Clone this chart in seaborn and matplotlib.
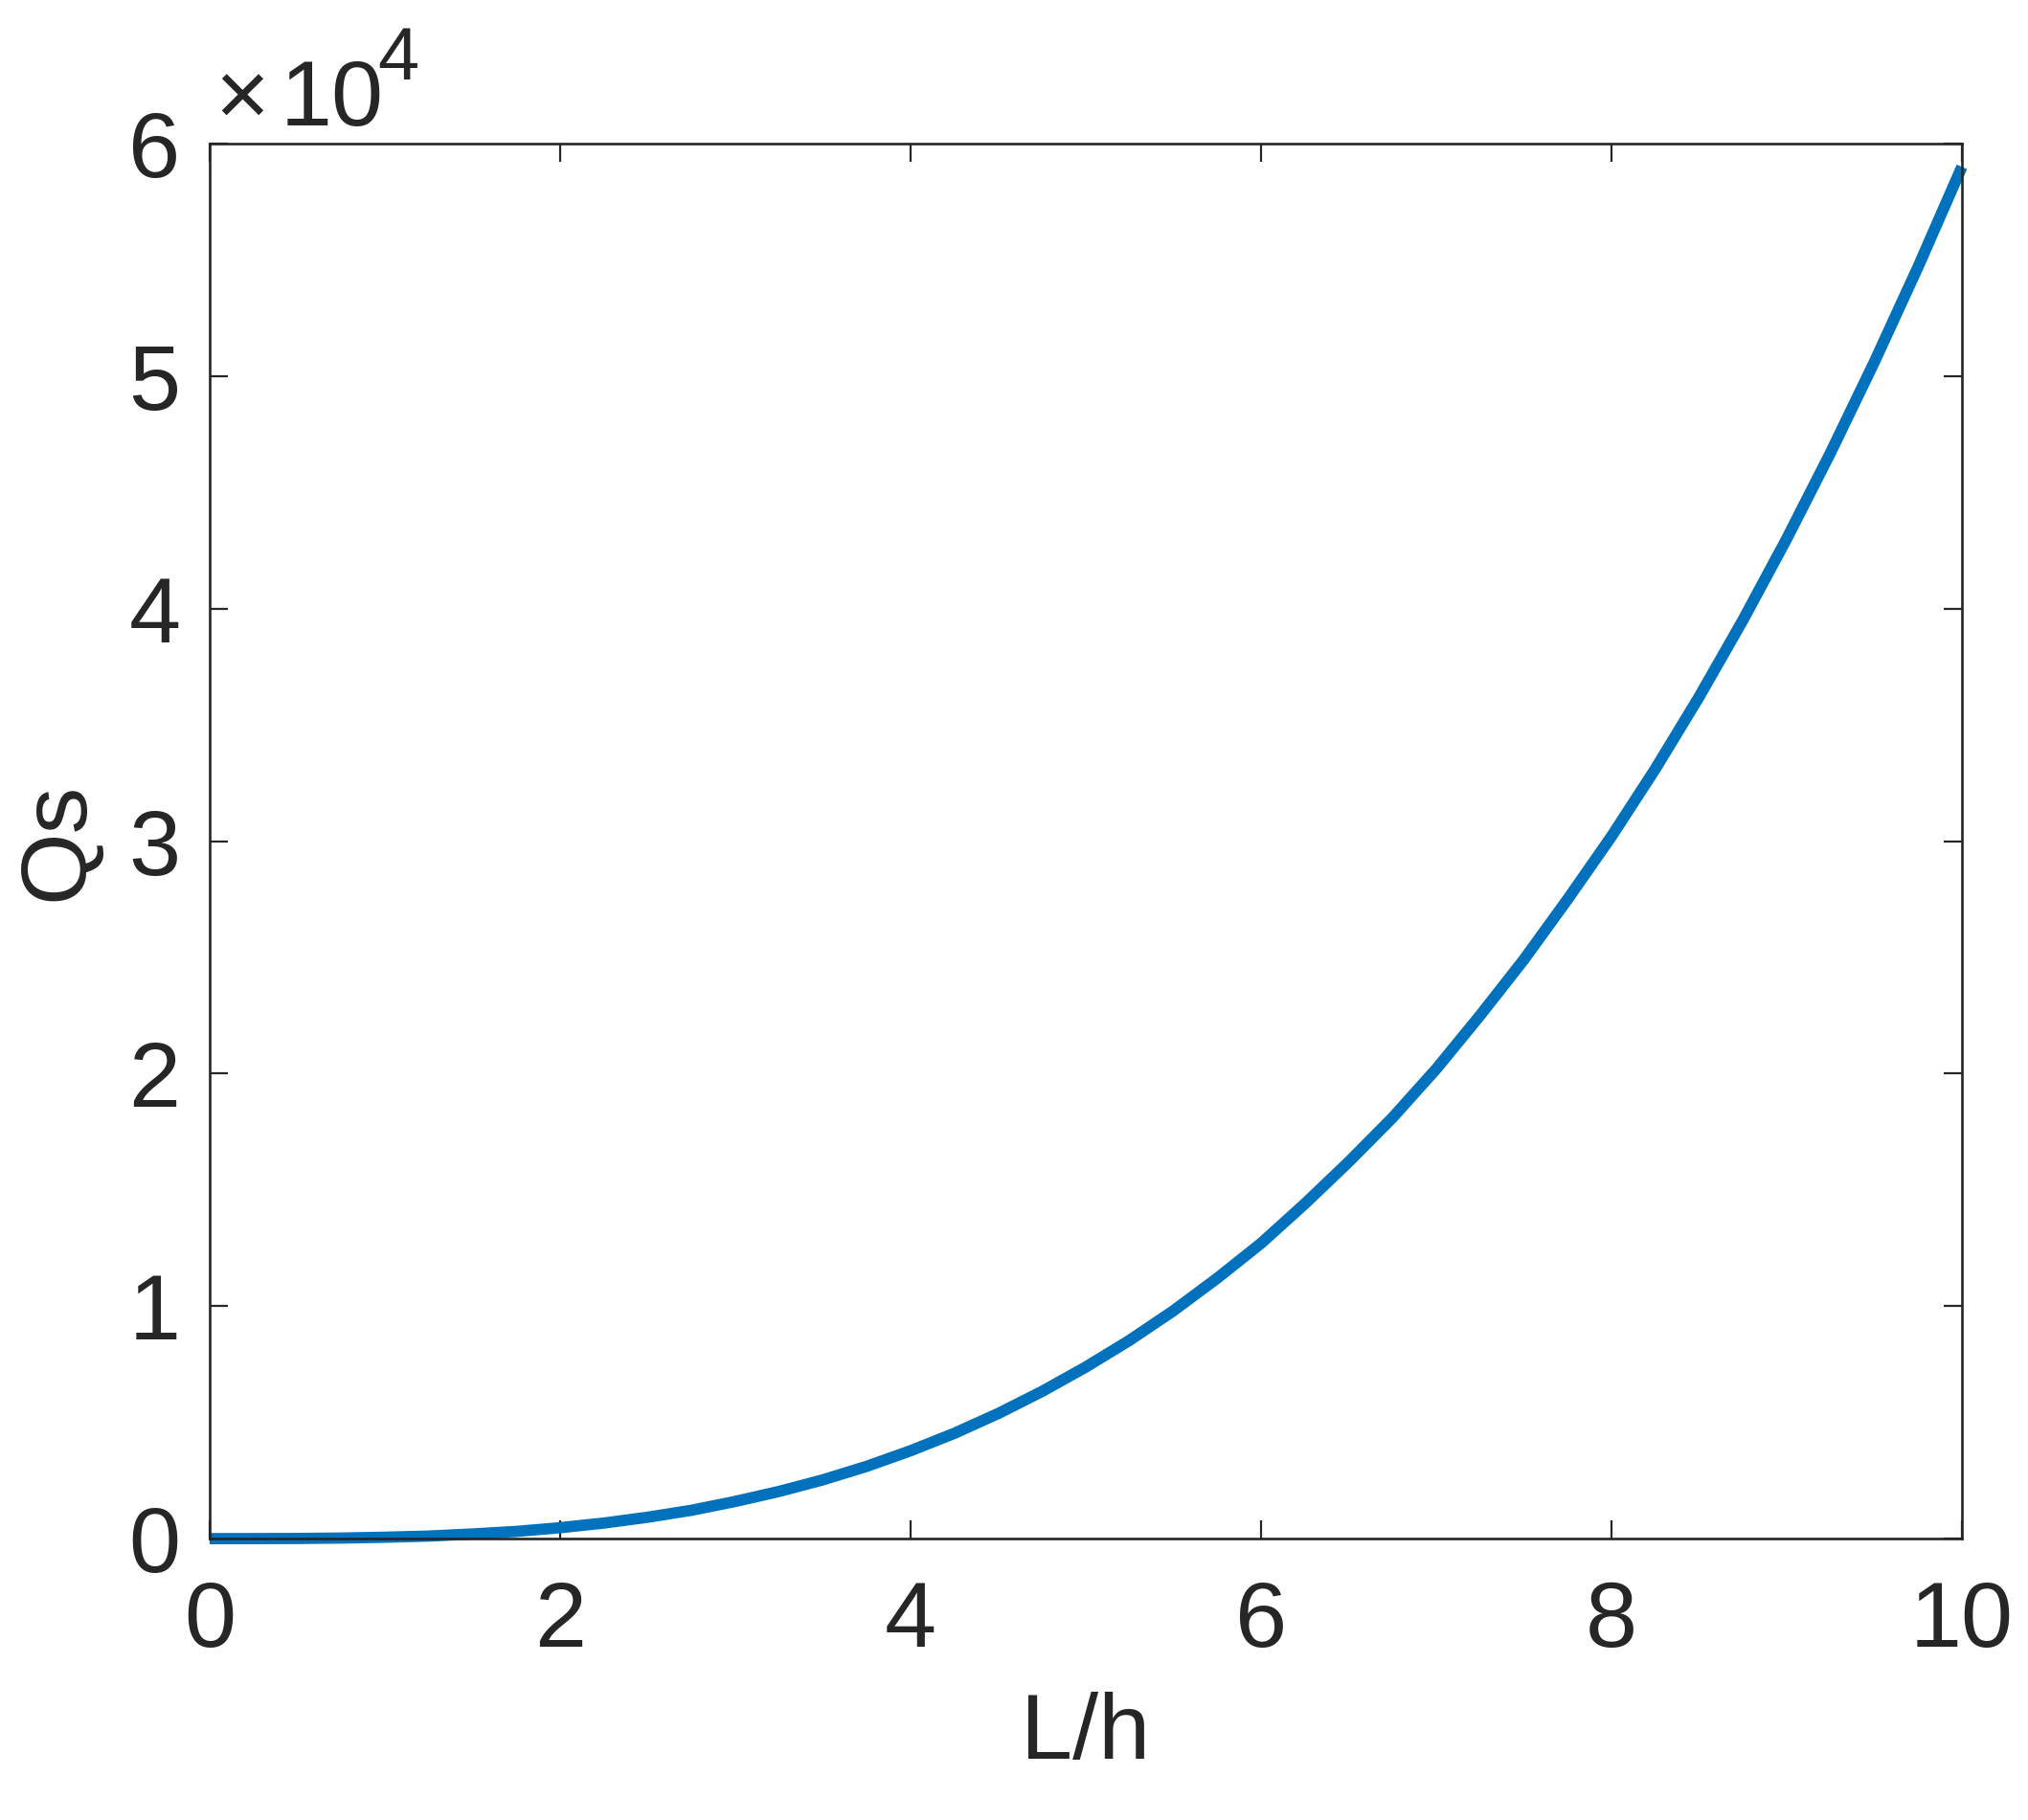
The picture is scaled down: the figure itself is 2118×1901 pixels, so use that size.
import numpy as np
import pandas as pd
import matplotlib
matplotlib.use("Agg")
import matplotlib.pyplot as plt
import seaborn as sns

# values (Qs in units of 1e4)
l_over_h = [0.0, 0.25, 0.5, 0.75, 1.0, 1.25, 1.5, 1.75, 2.0, 2.25, 2.5,
            2.75, 3.0, 3.25, 3.5, 3.75, 4.0, 4.25, 4.5, 4.75, 5.0,
            5.25, 5.5, 5.75, 6.0, 6.25, 6.5, 6.75, 7.0, 7.25, 7.5,
            7.75, 8.0, 8.25, 8.5, 8.75, 9.0, 9.25, 9.5, 9.75, 10.0]
qs_1e4 = [0.0, 0.0001, 0.0007, 0.0025, 0.006, 0.011, 0.02, 0.031, 0.047, 0.067, 0.092,
          0.122, 0.16, 0.203, 0.253, 0.311, 0.378, 0.453, 0.538, 0.633, 0.738,
          0.853, 0.98, 1.12, 1.27, 1.44, 1.62, 1.81, 2.02, 2.25, 2.49,
          2.75, 3.02, 3.31, 3.62, 3.95, 4.30, 4.67, 5.06, 5.47, 5.90]
x_ticks = [0, 2, 4, 6, 8, 10]
y_ticks = [0, 1, 2, 3, 4, 5, 6]

df = pd.DataFrame({"L/h": l_over_h, "Qs": qs_1e4})

sns.set_theme(style="ticks")
plt.rcParams["font.family"] = ["Liberation Sans", "DejaVu Sans"]

fig = plt.figure(figsize=(21.18, 19.01), dpi=100)
ax = fig.add_axes([0.1034, 0.1546, 0.864, 0.7665])

sns.lineplot(data=df, x="L/h", y="Qs", ax=ax, color="#0072BD", linewidth=8.5)
for ln in ax.lines:
    ln.set_clip_on(False)
    ln.set_solid_capstyle("butt")

ax.set_xlim(0, 10)
ax.set_ylim(0, 6)
ax.set_xticks(x_ticks)
ax.set_yticks(y_ticks)
ax.set_xticklabels([str(t) for t in x_ticks])
ax.set_yticklabels([str(t) for t in y_ticks])

axis_col = "#262626"
for side in ["left", "right", "top", "bottom"]:
    ax.spines[side].set_visible(True)
    ax.spines[side].set_linewidth(1.9)
    ax.spines[side].set_color(axis_col)

ax.tick_params(axis="both", which="major", direction="in", length=14, width=1.6,
               color=axis_col, labelsize=70, labelcolor=axis_col,
               top=True, right=True)
ax.tick_params(axis="x", pad=31)
ax.tick_params(axis="y", pad=22)

ax.set_xlabel("L/h", fontsize=70, color=axis_col, labelpad=19)
ax.set_ylabel("Qs", fontsize=70, color=axis_col, labelpad=20)

# exponent label in the MATLAB style: x 10^4
ax.text(0.003, 1.030, "\u00d7", transform=ax.transAxes, fontsize=70,
        color=axis_col, ha="left", va="center")
ax.text(0.040, 1.013, "10", transform=ax.transAxes, fontsize=70,
        color=axis_col, ha="left", va="baseline")
ax.text(0.0955, 1.046, "4", transform=ax.transAxes, fontsize=56,
        color=axis_col, ha="left", va="baseline")

fig.savefig("out.png", dpi=100, facecolor="white")
